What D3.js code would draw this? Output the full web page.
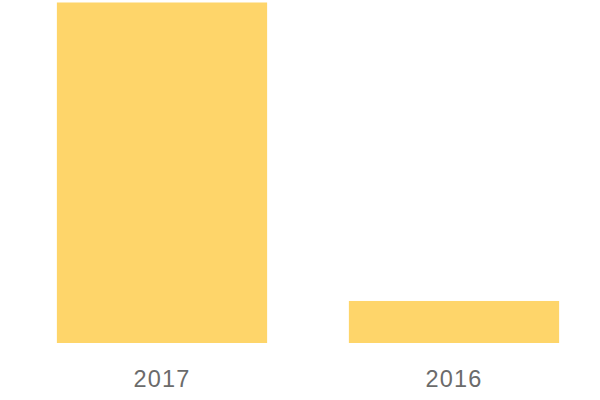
<!DOCTYPE html>
<html><head><meta charset="utf-8">
<script src="https://cdn.jsdelivr.net/npm/d3@7"></script>
<style>body{margin:0;background:#fff}</style>
</head><body>
<svg id="c" width="600" height="400"></svg>
<script>
const categories = ["2017", "2016"];
const values = [81, 10];

const svg = d3.select("#c");
const x = d3.scaleBand().domain(categories).range([16, 600]).paddingInner(0.28).paddingOuter(0.14);
const y = d3.scaleLinear().domain([0, 81]).range([343, 2.5]);

svg.selectAll("rect").data(categories).join("rect")
  .attr("x", d => x(d))
  .attr("width", x.bandwidth())
  .attr("y", (d, i) => y(values[i]))
  .attr("height", (d, i) => y(0) - y(values[i]))
  .attr("fill", "#fed56a");

const ax = svg.append("g").attr("transform", "translate(0,343)")
  .call(d3.axisBottom(x).tickSize(0).tickPadding(27));
ax.select(".domain").remove();
ax.selectAll("text").attr("fill", "#6b6b6b")
  .style("font-family", "'Liberation Sans', Arial, sans-serif")
  .style("font-size", "23.5px").style("letter-spacing", "1.2px");
</script>
</body></html>
